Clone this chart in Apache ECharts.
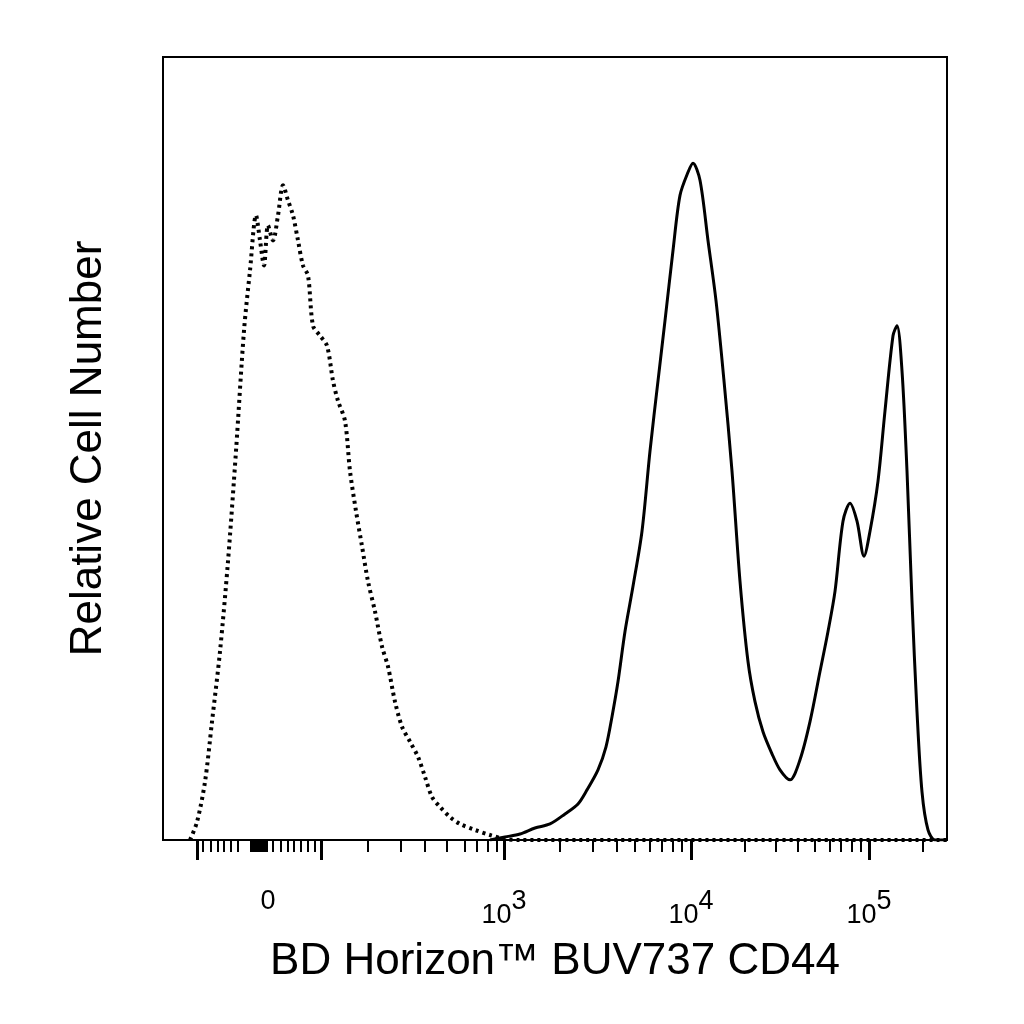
<!DOCTYPE html>
<html><head><meta charset="utf-8">
<script src="https://cdn.jsdelivr.net/npm/echarts@6/dist/echarts.min.js"></script>
<style>html,body{margin:0;background:#fff}#c{width:1024px;height:1024px}</style>
</head><body><div id="c"></div>
<script>
// x in display channels (biexponential scale, 0..784), y = relative count
const isoX = [27,34,42,49,57,65,73,81,87,93,97,101,105,110,115,120,125,130,135,140,145,150,157,164,170,175,182,187,193,199,205,212,219,225,232,239,247,255,262,269,277,287,297,312,327,342,357,784]
const isoY = [0,18,58,118,188,278,388,508,568,623,598,573,613,598,623,653,638,623,598,573,563,513,503,493,458,438,418,368,328,293,258,228,193,173,138,113,98,83,63,43,33,23,16,10,5,1,0,0]
const cdX = [327,342,357,372,387,402,415,424,435,443,449,455,462,470,479,487,495,502,510,517,525,530,537,545,553,561,569,577,585,592,600,609,617,627,637,647,657,665,672,680,687,694,701,707,715,722,730,734,739,744,749,754,759,765,772,784]
const cdY = [0,3,6,12,16,26,36,50,70,93,123,158,208,253,308,388,458,518,588,643,666,675,658,598,538,458,368,258,178,138,108,86,70,60,80,118,168,208,248,318,336,318,283,308,358,428,503,513,468,368,238,128,48,10,0,0]

const majorTicks = [34, 158, 341, 528, 706]
const minorTicks = [40,48,55,61,68,75,88,90,92,94,96,98,100,102,104,110,118,125,131,138,145,152,
  205,238,262,284,302,314,325,334,
  397,430,454,472,487,499,510,519,
  582,613,635,652,667,678,689,698,760]
const tickLabels = [[105,'0'],[341,'10{s|3}'],[528,'10{s|4}'],[706,'10{s|5}']]

const chart = echarts.init(document.getElementById('c'))
const base = {type:'value', min:0, max:784, position:'bottom', splitLine:{show:false}}
chart.setOption({
  animation:false,
  grid:{left:163, right:77, top:57, bottom:184, show:true, borderColor:'#000', borderWidth:2},
  xAxis:[
    Object.assign({}, base, {
      axisLine:{show:true, lineStyle:{color:'#000', width:2}},
      axisTick:{show:true, customValues:majorTicks, length:20, lineStyle:{color:'#000', width:3}},
      axisLabel:{customValues:tickLabels.map(d=>d[0]),
        formatter:v=>{const t=tickLabels.find(d=>d[0]===v);return t?t[1]:''},
        color:'#000', fontSize:27, fontFamily:'Liberation Sans', margin:48,
        rich:{s:{fontSize:27, verticalAlign:'top', padding:[0,0,28,0], fontFamily:'Liberation Sans'}}},
      name:'BD Horizon™ BUV737 CD44', nameLocation:'middle', nameGap:100,
      nameTextStyle:{color:'#000', fontSize:44, fontFamily:'Liberation Sans'}
    }),
    Object.assign({}, base, {
      axisLine:{show:false},
      axisTick:{show:true, customValues:minorTicks, length:12, lineStyle:{color:'#000', width:2}},
      axisLabel:{show:false}
    })
  ],
  yAxis:{type:'value', min:0, max:781, axisLine:{show:false}, axisTick:{show:false}, axisLabel:{show:false}, splitLine:{show:false},
    name:'Relative Cell Number', nameLocation:'middle', nameGap:52,
    nameTextStyle:{color:'#000', fontSize:44, fontFamily:'Liberation Sans'}},
  series:[
    {type:'line', data:isoX.map((x,i)=>[x,isoY[i]]), showSymbol:false, smooth:0.3,
      lineStyle:{color:'#000', width:4, type:[3,4]}},
    {type:'line', data:cdX.map((x,i)=>[x,cdY[i]]), showSymbol:false, smooth:0.3,
      lineStyle:{color:'#000', width:3}}
  ]
})
</script></body></html>
